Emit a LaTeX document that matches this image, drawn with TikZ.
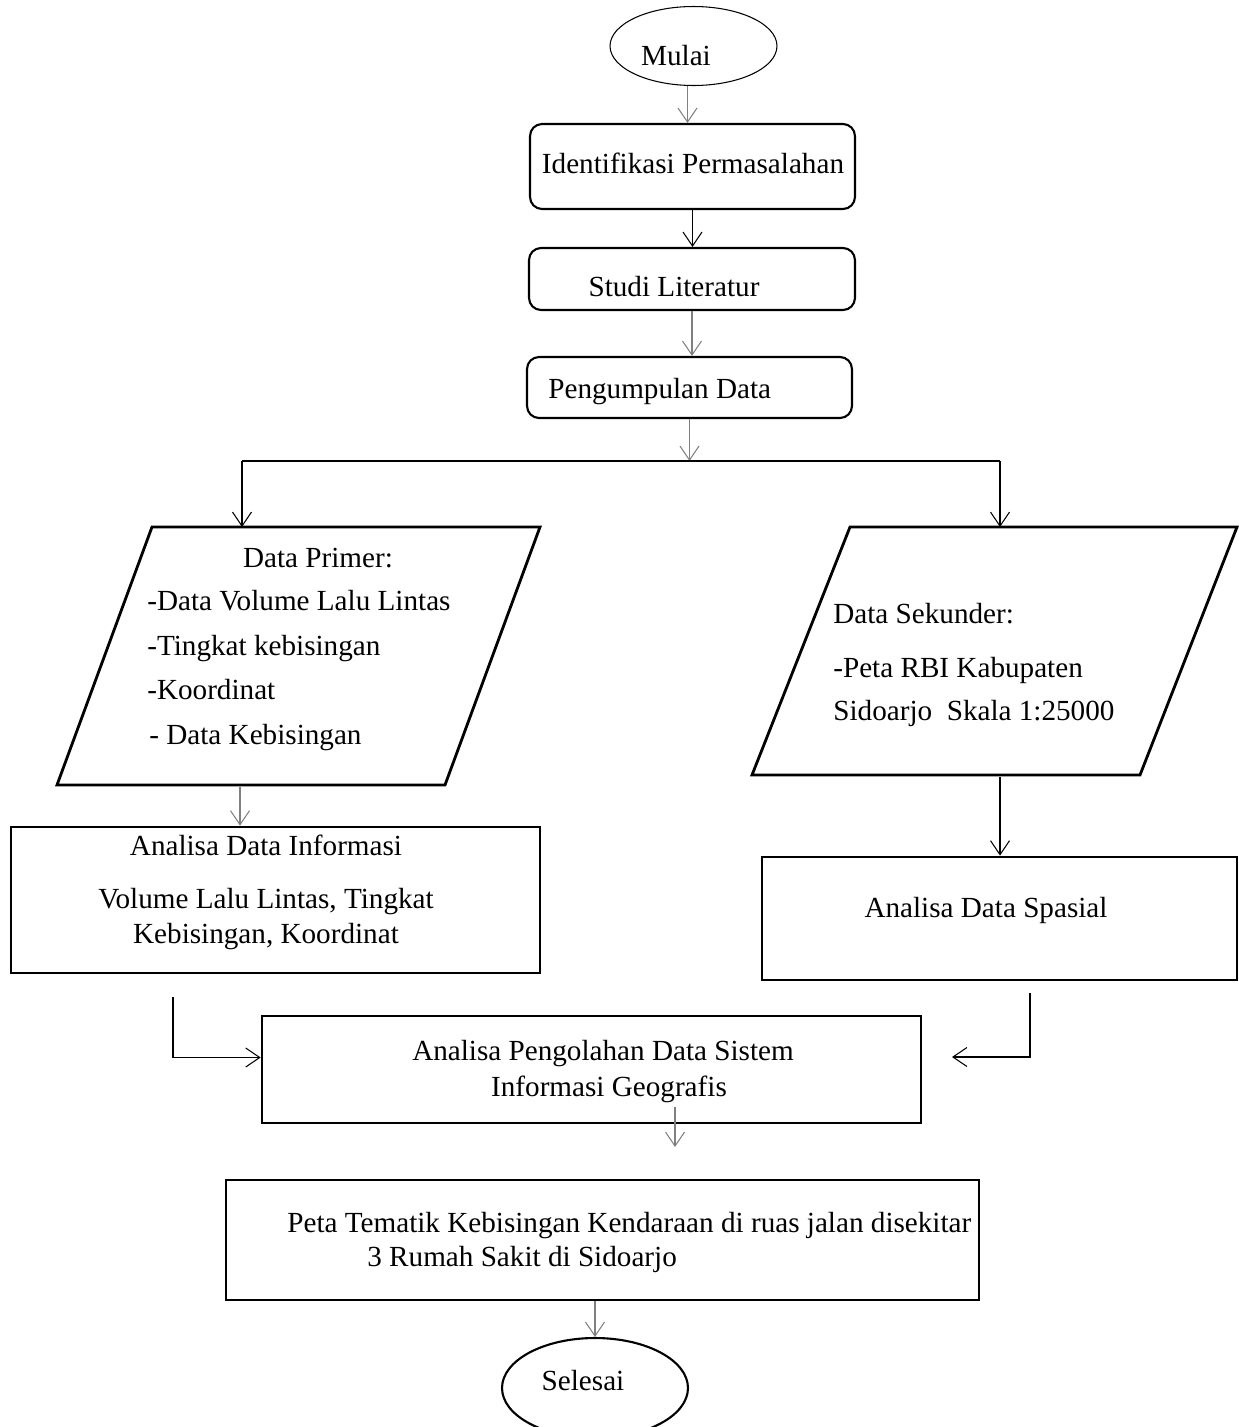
\documentclass[tikz,border=0pt]{standalone}
\usepackage{fontspec}
\setmainfont[Ligatures=NoCommon]{Liberation Serif}
\usetikzlibrary{arrows.meta,shapes.geometric,calc}

\begin{document}
\begin{tikzpicture}[x=0.02cm,y=-0.02cm,
    font=\fontsize{16.6}{25.4}\selectfont,
    kotak/.style={draw,line width=1.6pt,inner sep=0pt},
    kotakr/.style={kotak,rounded corners=0.24cm,line width=1.2pt},
    jajar/.style={draw,line width=1.6pt},
    teks/.style={inner sep=0pt,anchor=base},
    teksk/.style={inner sep=0pt,anchor=base west},
    panah/.style={-{Straight Barb[length=0.28cm,width=0.38cm]},line width=0.6pt},
    panahg/.style={panah,draw=black!50}]
        \useasboundingbox (0,0) rectangle (1238,1427);
        %Mulai
        \node[draw,ellipse,line width=0.6pt,minimum width=3.34cm,minimum height=1.58cm] (mulai) at (693.5,46) {};
        \node[teks] (tmulai) at (676,65) {Mulai};
        %Kotak atas
        \node[kotakr,minimum width=6.5cm,minimum height=1.7cm] (ident) at (692.5,166.5) {};
        \node[teks] (tident) at (693,173) {Identifikasi Permasalahan};
        \node[kotakr,minimum width=6.52cm,minimum height=1.24cm] (studi) at (692,279) {};
        \node[teks] (tstudi) at (674,296) {Studi Literatur};
        \node[kotakr,minimum width=6.5cm,minimum height=1.22cm] (kumpul) at (689.5,387.5) {};
        \node[teksk] (tkumpul) at (548,398) {Pengumpulan Data};
        %Data primer
        \draw[jajar] (152,527) coordinate (primN) -- (540,527) -- (445,785) -- (57,785) -- cycle;
        \node[teks] (tprim) at (318,567) {Data Primer:};
        \node[teksk] (tprim1) at (147,610) {-Data Volume Lalu Lintas};
        \node[teksk] (tprim2) at (147,655) {-Tingkat kebisingan};
        \node[teksk] (tprim3) at (147,699) {-Koordinat};
        \node[teksk] (tprim4) at (149,744) {- Data Kebisingan};
        \coordinate (primS) at (240,787);
        %Data sekunder
        \draw[jajar] (850,527) coordinate (sekN) -- (1237,527) -- (1140,775) -- (752,775) -- cycle;
        \node[teksk] (tsek) at (833,623) {Data Sekunder:};
        \node[teksk] (tsek1) at (833,677) {-Peta RBI Kabupaten};
        \node[teksk] (tsek2) at (833,720) {Sidoarjo\ \ Skala 1:25000};
        \coordinate (sekS) at (1000,777);
        %Analisa
        \node[kotak,minimum width=10.58cm,minimum height=2.92cm] (info) at (275.5,900) {};
        \node[teks] (tinfo) at (266,855) {Analisa Data Informasi};
        \node[teks] (tinfo1) at (266,908) {Volume Lalu Lintas, Tingkat};
        \node[teks] (tinfo2) at (266,943) {Kebisingan, Koordinat};
        \node[kotak,minimum width=9.5cm,minimum height=2.46cm] (spasial) at (999.5,918.5) {};
        \node[teks] (tspasial) at (986,917) {Analisa Data Spasial};
        \node[kotak,minimum width=13.18cm,minimum height=2.14cm] (sig) at (591.5,1069.5) {};
        \node[teks] (tsig1) at (603,1060) {Analisa Pengolahan Data Sistem};
        \node[teks] (tsig2) at (609,1096) {Informasi Geografis};
        %Peta
        \node[kotak,minimum width=15.06cm,minimum height=2.4cm] (peta) at (602.5,1240) {};
        \node[teksk] (tpeta1) at (287,1232) {Peta Tematik Kebisingan Kendaraan di ruas jalan disekitar};
        \node[teksk] (tpeta2) at (367,1266) {3 Rumah Sakit di Sidoarjo};
        %Selesai
        \node[draw,ellipse,line width=1.2pt,minimum width=3.72cm,minimum height=2.0cm] (selesai) at (595,1388) {};
        \node[teks] (tselesai) at (583,1390) {Selesai};
        %Panah
        \draw[panahg] ($(mulai.south)+(-6,0)$) coordinate (m1) -- (m1 |- ident.north);
        \draw[panah] (ident.south) -- (ident.south |- studi.north);
        \draw[panahg] (studi.south) -- (studi.south |- kumpul.north);
        \coordinate (cabang) at (690,461);
        \coordinate (cabL) at (242,461);
        \coordinate (cabR) at (1000,461);
        \draw[panahg] (kumpul.south) -- (kumpul.south |- cabang);
        \draw[line width=0.6pt] (cabL) -- (cabR);
        \draw[panah] (cabL) -- (cabL |- primN);
        \draw[panah] (cabR) -- (cabR |- sekN);
        \draw[panahg] (primS) -- (primS |- info.north);
        \draw[panah] (sekS) -- (sekS |- spasial.north);
        \coordinate (k1) at (173,997);
        \draw[panah] (k1) |- ($(sig.west)+(0,-12)$);
        \coordinate (k2) at (1030,993);
        \coordinate (k3) at (952,1057);
        \draw[panah] (k2) |- (k3);
        \coordinate (k4) at (675,1107);
        \coordinate (k5) at (675,1147);
        \draw[panahg] (k4) -- (k5);
        \draw[panahg] (selesai.north |- peta.south) -- (selesai.north);
\end{tikzpicture}
\end{document}
